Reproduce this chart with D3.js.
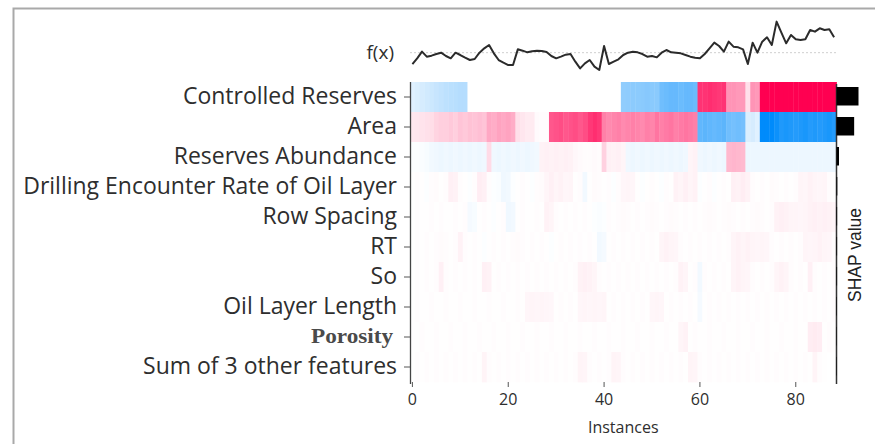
<!DOCTYPE html>
<html>
<head>
<meta charset="utf-8">
<script src="https://cdn.jsdelivr.net/npm/d3@7"></script>
<style>
  body { margin: 0; background: #fff; }
  svg { display: block; }
</style>
</head>
<body>
<svg id="chart" width="875" height="444"></svg>
<script>
// Features in display order (top to bottom)
const features = [
  "Controlled Reserves", "Area", "Reserves Abundance",
  "Drilling Encounter Rate of Oil Layer", "Row Spacing", "RT", "So",
  "Oil Layer Length", "Porosity", "Sum of 3 other features"
];
const instanceTicks = [0, 20, 40, 60, 80];
const baseValue = 0;

// Model output f(x) per instance (relative to base value)
const fx = [-0.68,-0.34,0.06,-0.24,-0.18,-0.08,0,-0.2,-0.34,0,
  -0.14,-0.3,-0.44,-0.38,0,0.26,0.46,-0.04,-0.44,-0.6,
  -0.74,-0.74,0.2,0.12,0.02,0.08,0.12,0.1,0.04,-0.2,
  -0.34,-0.24,-0.12,-0.08,-0.54,-0.94,-0.64,-0.44,-0.84,-1.04,
  0.4,-0.68,-0.54,-0.4,-0.14,0,0.06,0.02,-0.08,-0.24,
  -0.2,-0.28,0,0.16,0.02,0,-0.04,-0.14,-0.24,-0.3,
  -0.34,-0.08,0.26,0.6,0.4,0.06,0.66,0.36,0.32,0.2,
  -0.68,0.6,0,0.66,0.92,0.46,1.86,1.2,0.56,1.06,
  0.8,0.76,0.8,1.36,1.26,1.46,1.36,1.4,0.92];

// SHAP values per feature, one entry per instance
const shapControlledReserves = [-0.12,-0.14,-0.16,-0.18,-0.2,-0.22,-0.24,-0.26,-0.27,-0.28,-0.29,-0.29,
  0,0,0,0,0,0,0,0,0,0,0,0,0,0,0,0,0,0,0,0,0,0,0,0,0,0,0,0,0,0,0,0,
  -0.43,-0.44,-0.45,-0.45,-0.46,-0.47,-0.46,-0.46,
  -0.56,-0.58,-0.6,-0.6,-0.58,-0.6,-0.6,-0.58,
  0.8,0.8,0.82,0.8,0.78,0.8,
  0.42,0.42,0.4,0.4,
  0.12,
  0.42,0.4,
  2.3,2.2,2.4,2.3,2.2,2.3,2.4,2.3,2.2,2.3,2.4,2.3,2.2,2.3,2.3,2.2];

const shapArea = [0.09,0.1,0.11,0.12,0.13,
  0.17,0.19,0.19,0.21,0.19,0.23,0.21,0.24,0.23,0.25,0.23,
  0.34,0.32,0.36,0.34,0.36,0.32,
  0.12,0.1,0.08,0.08,
  0.02,0.01,0.01,
  0.66,0.68,0.7,0.66,0.68,0.7,0.66,0.7,
  0.78,0.82,0.78,
  0.5,0.46,0.48,0.5,0.46,0.48,0.5,0.48,0.46,0.5,0.48,
  0.54,0.5,0.52,0.54,0.5,0.52,0.54,0.52,0.5,
  -0.62,-0.64,-0.62,-0.6,-0.62,-0.64,
  -0.56,-0.54,-0.56,-0.54,
  -0.14,-0.16,-0.12,
  -1.1,-1.0,-1.0,-0.95,
  -0.88,-0.9,-0.88,-0.86,-0.88,-0.9,-0.86,-0.88,-0.86,-0.88,-0.9,-0.86];

const shapReservesAbundance = [-0.01,-0.01,-0.02,-0.03,-0.05,-0.06,-0.07,-0.06,-0.07,-0.06,
  -0.07,-0.06,-0.07,-0.06,-0.07,-0.06,0.14,-0.06,-0.07,-0.06,
  -0.07,-0.06,-0.07,-0.06,-0.07,-0.06,-0.05,0.05,0.06,0.05,
  0.06,0.05,0.06,0.05,0.03,0.02,0.01,0.01,0.02,0.01,
  0.18,0.06,0.05,0.06,0.04,-0.06,-0.07,-0.06,-0.07,-0.06,
  -0.07,-0.06,-0.07,-0.06,-0.07,-0.06,-0.07,-0.06,0.04,0.05,
  -0.06,-0.07,-0.06,-0.07,-0.06,-0.07,0.28,0.29,0.28,0.27,
  -0.07,-0.07,-0.07,-0.07,-0.07,-0.07,-0.07,-0.07,-0.07,-0.07,
  -0.07,-0.07,-0.07,-0.07,-0.07,-0.07,-0.07,-0.07,-0.07];

const shapDrillingEncounterRate = [0.005,0.01,0.005,-0.01,0.01,0.015,0.005,0.01,
  0.06,0.05,
  0.01,0.005,-0.01,0.01,
  0.07,0.06,
  0.01,-0.01,-0.02,
  -0.06,-0.05,
  -0.01,0.005,0.01,0.005,-0.01,0.01,0.015,
  0.04,0.06,0.04,0.05,0.035,0.04,
  0.005,0.01,
  -0.05,
  0.005,0.015,0.01,0.005,0.01,-0.01,0.01,
  0.035,0.04,0.035,
  0.005,-0.01,0.005,0.01,0.005,-0.01,0.01,0.005,
  0.05,0.04,0.06,0.04,0.05,
  -0.01,0.005,0.01,-0.01,0.005,0.01,0.005,
  0.06,0.05,0.07,0.05,
  0.01,0.005,0.01,0.005,0.015,0.01,0.005,0.01,0.005,0.01,
  0.04,0.035,0.05,0.04,0.035,0.04,
  0.01,0.005];

const shapRowSpacing = [0.005,0.01,0.005,0.005,0.01,0.005,0.01,0.005,0.005,0.01,0.005,0.01,
  -0.04,-0.03,
  0.005,0.01,0.005,-0.01,0.005,0.01,
  -0.06,-0.05,
  0.005,0.01,0.005,0.005,0.01,0.005,
  0.05,0.04,
  0.01,0.005,0.01,0.005,0.01,0.005,0.01,0.005,
  -0.01,-0.02,-0.01,
  0.01,0.005,0.01,0.015,0.01,0.005,0.01,0.005,0.01,0.015,
  0.01,0.005,0.01,0.015,0.01,0.005,0.01,0.005,0.01,0.005,
  0.01,0.015,0.01,0.005,0.01,0.015,0.01,0.005,0.01,0.005,
  0.01,0.015,0.01,0.005,0.01,
  0.05,0.06,0.05,0.04,
  0.04,0.035,0.04,0.05,0.06,0.05,0.06,0.05,0.04];

const shapRT = [0.005,0.01,0.005,0.01,0.005,0.01,0.015,0.01,0.005,0.01,
  0.05,
  0.01,0.005,0.01,0.005,-0.01,0.005,0.01,0.005,0.01,0.005,
  0.01,0.015,0.01,0.005,0.01,0.005,0.01,0.005,-0.01,0.005,
  0.01,0.005,0.01,0.005,0.01,0.005,0.01,0.005,
  -0.05,-0.04,
  0.005,0.01,0.005,0.01,0.005,0.01,0.005,0.01,0.005,0.01,0.005,
  0.04,0.05,0.04,0.035,
  0.01,0.005,0.01,0.005,0.01,0.005,0.01,0.005,0.01,0.005,0.01,
  0.04,0.05,0.04,0.05,0.04,0.035,0.04,0.035,
  0.01,0.005,0.01,0.005,0.01,0.005,0.01,
  0.04,0.035,0.04,0.05,0.04,0.035,
  0.01];

const shapSo = [0.005,0.01,0.005,0.01,0.005,0.01,
  0.06,
  0.01,0.005,0.01,0.005,0.01,0.005,0.01,0.005,
  0.06,0.05,
  0.005,0.01,0.005,0.01,0.005,0.01,0.005,0.01,0.005,0.01,
  0.005,0.01,0.005,0.01,0.005,0.01,0.005,0.01,
  0.05,0.06,0.05,0.04,
  0.01,0.005,0.01,0.005,0.01,0.005,0.01,0.005,0.01,0.005,
  0.01,0.005,0.01,0.005,0.01,0.005,0.01,
  0.05,0.04,
  0.005,0.01,
  -0.05,
  0.01,0.005,0.01,0.005,0.01,0.005,
  0.04,0.05,0.04,0.035,
  0.01,0.005,0.01,0.005,0.01,
  0.04,0.05,0.04,
  0.01,0.005,0.01,0.005,
  0.06,
  0.01,0.005,0.01,0.005,0.01];

const shapOilLayerLength = [0.005,0.01,0.005,0.005,0.01,0.005,0.005,0.01,0.005,0.005,0.01,0.005,
  0.005,0.01,0.005,0.005,0.01,0.005,0.005,0.01,0.005,0.005,0.01,0.005,
  0.035,0.04,0.035,0.04,0.035,0.03,
  0.005,0.01,0.005,0.01,0.005,
  0.035,0.04,0.035,0.04,0.035,0.04,
  0.005,0.01,0.005,0.01,0.005,0.01,0.005,0.01,0.005,
  0.035,0.04,0.035,
  0.005,0.01,0.005,0.01,0.005,0.01,0.005,
  -0.04,
  0.005,0.01,0.005,0.01,0.005,0.01,0.005,0.01,0.005,0.01,
  0.005,0.01,0.005,0.01,0.005,0.01,0.005,0.01,0.005,0.01,
  0.005,0.01,0.005,0.01,0.005,0.01,0.005,0.01];

const shapPorosity = [0.005,0.005,0.01,0.005,0.005,0.01,0.005,0.005,0.01,0.005,
  0.005,0.01,0.005,0.005,0.01,0.005,0.005,0.01,0.005,0.005,
  0.01,0.005,0.005,0.01,0.005,0.005,0.01,0.005,0.005,0.01,
  0.005,0.005,0.01,0.005,0.005,0.01,0.005,0.005,0.01,0.005,
  0.005,0.01,0.005,0.005,0.01,0.005,0.005,0.01,0.005,0.005,
  0.01,0.005,0.005,0.01,0.005,0.005,
  0.04,0.05,
  0.005,0.01,0.005,0.005,0.01,0.005,0.005,0.01,0.005,0.005,
  0.01,0.005,0.005,0.01,0.005,0.005,0.01,0.005,0.005,0.01,
  0.005,0.005,0.01,0.005,0.005,
  0.07,0.08,0.07,
  0.005,0.01,0.005];

const shapOtherFeatures = [0.005,0.01,0.005,0.01,0.005,0.01,0.005,0.01,0.005,0.01,0.005,0.01,0.005,0.01,0.005,
  0.045,
  0.01,0.005,0.01,0.005,0.01,0.005,0.01,0.005,0.01,0.005,0.01,0.005,0.01,0.005,0.01,0.005,0.01,0.005,0.01,
  0.045,0.04,
  0.01,0.005,0.01,0.005,0.01,
  0.045,0.04,
  0.01,0.005,0.01,0.005,0.01,0.005,0.01,0.005,0.01,0.005,0.01,0.005,0.01,0.005,
  0.045,0.04,
  0.01,0.005,0.01,0.005,0.01,0.005,0.01,0.005,0.01,0.005,0.01,0.005,
  0.01,0.005,0.01,0.005,0.01,0.005,0.01,0.005,0.01,0.005,0.01,0.005,
  0.045,
  0.01,0.005];

const shapRows = [shapControlledReserves, shapArea, shapReservesAbundance,
  shapDrillingEncounterRate, shapRowSpacing, shapRT, shapSo,
  shapOilLayerLength, shapPorosity, shapOtherFeatures];

// ---- drawing ----
const svg = d3.select("#chart");
const nInst = fx.length;
const labelFont = "'Open Sans', 'Noto Sans', sans-serif";
const textColor = "#2e2e2e";

// frame around the figure
svg.append("path")
  .attr("d", "M13.5,444 V8.5 H875")
  .attr("fill", "none").attr("stroke", "#a9a9a9").attr("stroke-width", 2);

const x = d3.scaleLinear().domain([-0.5, nInst - 0.5]).range([410, 836.5]);
const y = d3.scaleBand().domain(features).range([82, 382]);
const fy = d3.scaleLinear().domain([-1.2, 2.0]).range([72.7, 19.3]);
const color = d3.scaleLinear().domain([-1, 0, 1])
  .range(["#008bfb", "#ffffff", "#ff0051"]).clamp(true);

// heatmap cells
const cells = [];
shapRows.forEach((row, r) => row.forEach((v, i) => cells.push({ f: features[r], i, v })));
const step = x(1) - x(0);
svg.append("g").selectAll("rect").data(cells).join("rect")
  .attr("x", d => x(d.i - 0.5))
  .attr("y", d => y(d.f))
  .attr("width", step + 0.4)
  .attr("height", y.bandwidth() + 0.4)
  .attr("fill", d => color(d.v));

// f(x) panel: base value and model output line
svg.append("line")
  .attr("x1", x(-0.5)).attr("x2", x(nInst - 0.5))
  .attr("y1", fy(baseValue)).attr("y2", fy(baseValue))
  .attr("stroke", "#cfcfcf").attr("stroke-width", 1).attr("stroke-dasharray", "2,2");
svg.append("path")
  .datum(fx)
  .attr("d", d3.line().x((d, i) => x(i)).y(d => fy(d)))
  .attr("fill", "none").attr("stroke", "#2b2b2b").attr("stroke-width", 2)
  .attr("stroke-linejoin", "round");
svg.append("text")
  .attr("x", 394).attr("y", fy(baseValue) + 1)
  .attr("text-anchor", "end").attr("dominant-baseline", "middle")
  .style("font-family", labelFont).style("font-size", "19px").attr("fill", textColor)
  .text("f(x)");

// y axis: spine, ticks and feature labels
svg.append("line")
  .attr("x1", 410.5).attr("x2", 410.5).attr("y1", 82).attr("y2", 384)
  .attr("stroke", "#444").attr("stroke-width", 1.3);
const yTicks = svg.append("g");
yTicks.selectAll("line").data(features).join("line")
  .attr("x1", 404).attr("x2", 410)
  .attr("y1", d => y(d) + y.bandwidth() / 2).attr("y2", d => y(d) + y.bandwidth() / 2)
  .attr("stroke", "#555").attr("stroke-width", 1);
const ylabels = yTicks.selectAll("text").data(features).join("text")
  .attr("x", 397)
  .attr("y", d => y(d) + y.bandwidth() / 2 + 1)
  .attr("text-anchor", "end").attr("dominant-baseline", "middle")
  .attr("fill", textColor)
  .style("font-family", labelFont).style("font-size", "20px")
  .text(d => d);
// size the sans labels so the longest one spans the label column
const longest = ylabels.filter(d => d === features[3]).node().getComputedTextLength();
const labelSize = 20 * 374 / longest;
ylabels.style("font-size", labelSize + "px");
ylabels.filter(d => d === "Porosity")
  .style("font-family", "'Liberation Serif', 'Times New Roman', serif")
  .style("font-weight", "bold").style("font-size", "20px")
  .attr("fill", "#4a4a4a").attr("x", 393)
  .attr("textLength", 82).attr("lengthAdjust", "spacingAndGlyphs");

// x axis: ticks, labels, title
const xAxis = svg.append("g");
xAxis.selectAll("line").data(instanceTicks).join("line")
  .attr("x1", d => x(d)).attr("x2", d => x(d)).attr("y1", 382).attr("y2", 387)
  .attr("stroke", "#555");
xAxis.selectAll("text").data(instanceTicks).join("text")
  .attr("x", d => x(d)).attr("y", 401)
  .attr("text-anchor", "middle").attr("dominant-baseline", "middle")
  .style("font-family", labelFont).style("font-size", "16px").attr("fill", textColor)
  .text(d => d);
svg.append("text")
  .attr("x", (x(-0.5) + x(nInst - 0.5)) / 2).attr("y", 429)
  .attr("text-anchor", "middle").attr("dominant-baseline", "middle")
  .style("font-family", labelFont).style("font-size", "16px").attr("fill", textColor)
  .text("Instances");

// right spine and mean |SHAP| bars
svg.append("line")
  .attr("x1", 836.5).attr("x2", 836.5).attr("y1", 84).attr("y2", 384)
  .attr("stroke", "#333").attr("stroke-width", 1.5);
const meanAbs = shapRows.map(r => d3.mean(r, v => Math.abs(v)));
const barW = d3.scaleLinear().domain([0, d3.max(meanAbs)]).range([0, 22]);
svg.append("g").selectAll("rect").data(features).join("rect")
  .attr("x", 836.5)
  .attr("y", d => y(d) + y.bandwidth() / 2 - 10)
  .attr("width", (d, i) => barW(meanAbs[i]))
  .attr("height", 18.5)
  .attr("fill", "#000");
svg.append("text")
  .attr("transform", "translate(856,255) rotate(-90)")
  .attr("text-anchor", "middle").attr("dominant-baseline", "middle")
  .style("font-family", "'Liberation Sans', Arial, sans-serif").style("font-size", "17.5px")
  .attr("fill", "#222")
  .text("SHAP value");
</script>
</body>
</html>
